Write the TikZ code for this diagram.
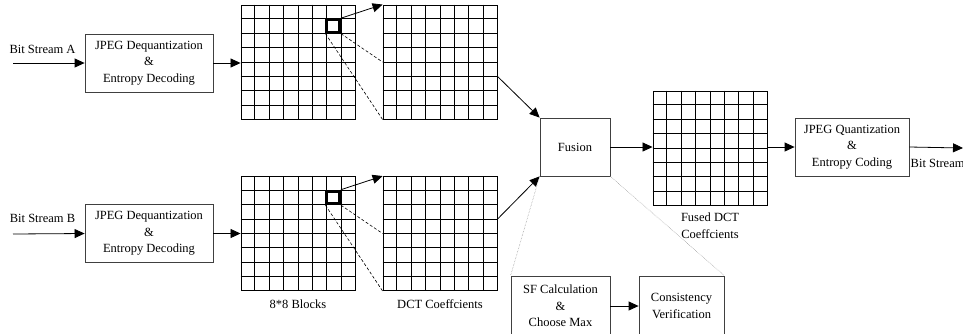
\documentclass[tikz,border=0pt]{standalone}
\usepackage{fontspec}
\setmainfont{Liberation Serif}
\usepackage{tikz}
\usetikzlibrary{arrows.meta,calc}

\tikzset{
  txt/.style={font=\fontsize{12.5}{16.5}\selectfont, align=center, inner sep=0pt},
  procbox/.style={txt, draw=black!75, line width=0.8pt, minimum height=58pt},
  blockgrid/.style={draw, line width=0.9pt, minimum size=114pt, inner sep=0pt},
  cellmark/.style={draw, line width=3pt, minimum size=12.5pt, inner sep=0pt},
  arr/.style={line width=0.8pt, -{Triangle[length=10pt,width=9pt]}},
  zoomline/.style={line width=0.6pt, dashed, dash pattern=on 3pt off 2pt},
  hint/.style={line width=0.5pt, black!45, densely dotted}
}

\begin{document}
\begin{tikzpicture}[x=1pt,y=-1pt]
\useasboundingbox (0,0) rectangle (963,333);

% inputs
\node[txt] (inA) at (42.5,49) {Bit Stream A};
\node[txt] (inB) at (42.5,218) {Bit Stream B};
\coordinate (srcA) at (13,63);
\coordinate (srcB) at (13,234);

% decoding boxes
\node[procbox, minimum width=128pt] (decA) at (149,63) {JPEG Dequantization\\\&\\Entropy Decoding};
\node[procbox, minimum width=128pt] (decB) at (149,233.5) {JPEG Dequantization\\\&\\Entropy Decoding};

% 8x8 grids
\node[blockgrid] (blkA) at (298,62) {};
\node[blockgrid] (dctA) at (440,62) {};
\node[blockgrid] (blkB) at (298,233.5) {};
\node[blockgrid] (dctB) at (440,233.5) {};
\node[blockgrid] (fused) at (710,148) {};
\foreach \g in {blkA,dctA,blkB,dctB,fused}
  \foreach \i in {1,...,7} {
    \draw[line width=0.9pt] ($(\g.north west)!\i/8!(\g.north east)$) -- ($(\g.south west)!\i/8!(\g.south east)$);
    \draw[line width=0.9pt] ($(\g.north west)!\i/8!(\g.south west)$) -- ($(\g.north east)!\i/8!(\g.south east)$);
  }

% marked blocks
\node[cellmark] (selA) at ($(blkA.north west)+(6.5*14.25,1.5*14.25)$) {};
\node[cellmark] (selB) at ($(blkB.north west)+(6.5*14.25,1.5*14.25)$) {};

% fusion and output
\node[procbox, minimum width=70pt] (fuse) at (575,147) {Fusion};
\node[procbox, minimum width=114pt] (enc) at (852,147) {JPEG Quantization\\\&\\Entropy Coding};
\coordinate (out) at (963,148);
\node[txt, anchor=west] (outlbl) at (910.5,163) {Bit Stream};

% fusion rule
\node[procbox, minimum width=99pt, minimum height=60pt] (sf) at (560.5,306) {SF Calculation\\\&\\Choose Max};
\node[procbox, minimum width=85pt, minimum height=60pt] (cv) at (681.5,306) {Consistency\\Verification};

% captions
\node[txt] (capblk) at (298,304) {8*8 Blocks};
\node[txt] (capdct) at (440,304) {DCT Coeffcients};
\node[txt] (capfus) at (710,225.5) {Fused DCT\\Coeffcients};

% connectors
\draw[arr] (srcA) -- (decA.west);
\draw[arr] (srcB) -- (decB.west);
\draw[arr] (decA.east) -- (decA.east -| blkA.west);
\draw[arr] (decB.east) -- (decB.east -| blkB.west);

\draw[arr] (selA.north east) -- (dctA.north west);
\draw[zoomline] (selA.south west) -- (dctA.south west);
\draw[zoomline] (selA.south east) -- (dctA.west);
\draw[arr] (selB.north east) -- (dctB.north west);
\draw[zoomline] (selB.south west) -- (dctB.south west);
\draw[zoomline] (selB.south east) -- (dctB.west);

\draw[arr] ($(dctA.north east)!5/8!(dctA.south east)$) -- (fuse.north west);
\draw[arr] ($(dctB.north east)!3/8!(dctB.south east)$) -- (fuse.south west);
\draw[arr] (fuse.east) -- (fuse.east -| fused.west);
\draw[arr] (fuse.east -| fused.east) -- (enc.west);
\draw[arr] (enc.east) -- (out);

\draw[arr] (sf.east) -- (cv.west);
\draw[hint] (fuse.south west) -- (sf.north west);
\draw[hint] (fuse.south east) -- (cv.north east);
\end{tikzpicture}
\end{document}
